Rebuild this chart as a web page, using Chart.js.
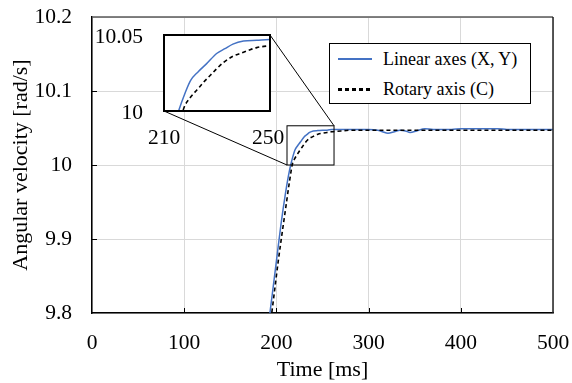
<!DOCTYPE html>
<html>
<head>
<meta charset="utf-8">
<script src="https://cdn.jsdelivr.net/npm/chart.js@4/dist/chart.umd.min.js"></script>
<style>
    html, body { margin: 0; padding: 0; background: #fff; }
    #wrap { position: relative; width: 572px; height: 383px; }
    #wrap canvas { position: absolute; left: 0; top: 0; }
    #legend {
        position: absolute; left: 329px; top: 43px; width: 200px; height: 59px;
        border: 1px solid #000; background: #fff;
        font: 18px 'Liberation Serif', 'Times New Roman', serif; color: #000;
    }
    #legend .row { position: absolute; left: 0; height: 22px; line-height: 22px; width: 100%; }
    #legend .swatch { position: absolute; left: 8px; top: 10px; width: 34px; }
    #legend .label { position: absolute; left: 53px; top: 0; white-space: nowrap; }
</style>
</head>
<body>
<div id="wrap">
    <canvas id="mainChart" width="572" height="383"></canvas>
    <canvas id="insetChart" width="572" height="383"></canvas>
    <div id="legend"></div>
</div>
<script>
// series names
var seriesNames = ['Linear axes (X, Y)', 'Rotary axis (C)'];

// Linear axes (X, Y) - time [ms] / angular velocity [rad/s]
var linearTime = [180, 185, 190, 195, 200, 205, 210, 213, 215.5, 218,
    220, 223, 226, 230, 233, 236, 240, 245, 250, 255,
    260, 270, 280, 290, 300, 310, 315, 321, 328, 334,
    340, 345, 352, 361, 370, 380, 390, 400, 410, 420,
    430, 440, 450, 460, 470, 480, 490, 500];
var linearVel = [9.66, 9.715, 9.77, 9.82, 9.87, 9.92, 9.963, 9.985, 10.000, 10.012,
    10.02, 10.026, 10.031, 10.038, 10.041, 10.044, 10.046, 10.0465, 10.047, 10.047,
    10.048, 10.048, 10.048, 10.048, 10.048, 10.047, 10.045, 10.043, 10.045, 10.047,
    10.046, 10.044, 10.046, 10.049, 10.048, 10.048, 10.048, 10.049, 10.049, 10.049,
    10.049, 10.049, 10.048, 10.048, 10.048, 10.048, 10.048, 10.048];

// Rotary axis (C)
var rotaryTime = [182, 187, 192, 197, 202, 207, 211, 214, 217.3, 220,
    222.5, 225, 227.5, 230, 232.5, 236, 239, 242, 245, 250,
    255, 260, 270, 280, 300, 320, 340, 360, 380, 400,
    420, 440, 460, 480, 500];
var rotaryVel = [9.66, 9.715, 9.77, 9.82, 9.87, 9.915, 9.95, 9.976, 10.001, 10.009,
    10.014, 10.019, 10.0235, 10.028, 10.032, 10.036, 10.038, 10.040, 10.0417, 10.043,
    10.044, 10.045, 10.046, 10.047, 10.047, 10.047, 10.047, 10.047, 10.047, 10.047,
    10.047, 10.047, 10.047, 10.047, 10.047];

// main axes
var xTicks = [0, 100, 200, 300, 400, 500];
var yTicks = [9.8, 9.9, 10, 10.1, 10.2];
var yTickLabels = ['9.8', '9.9', '10', '10.1', '10.2'];

// zoomed region marked on the main chart, and the inset's range
var zoomBoxX = [211.5, 262.5];
var zoomBoxY = [10, 10.053];
var insetXTicks = [210, 250];
var insetYTicks = [10, 10.05];
var insetYTickLabels = ['10', '10.05'];

var FONT = "'Liberation Serif', 'Times New Roman', serif";
var BLUE = '#4472C4';
var INSET = { left: 164, top: 35, right: 270, bottom: 111 };

Chart.defaults.font.family = FONT;
Chart.defaults.color = '#000';

function toPoints(xs, ys) {
    return xs.map(function(x, i) { return { x: x, y: ys[i] }; });
}

function makeDatasets() {
    return [{
        label: seriesNames[1],
        data: toPoints(rotaryTime, rotaryVel),
        borderColor: '#000',
        borderWidth: 1.6,
        borderDash: [4, 3],
        pointRadius: 0,
        cubicInterpolationMode: 'monotone'
    }, {
        label: seriesNames[0],
        data: toPoints(linearTime, linearVel),
        borderColor: BLUE,
        borderWidth: 1.5,
        pointRadius: 0,
        cubicInterpolationMode: 'monotone'
    }];
}

// frame, inward ticks, zoom box and connectors
var mainDecor = {
    id: 'mainDecor',
    afterDatasetsDraw: function(chart) {
        var ctx = chart.ctx, a = chart.chartArea;
        var xs = chart.scales.x, ys = chart.scales.y;
        ctx.save();
        ctx.strokeStyle = '#000';
        ctx.lineWidth = 1;
        ctx.beginPath();
        xTicks.slice(1, -1).forEach(function(v) {
            var px = Math.round(xs.getPixelForValue(v)) + 0.5;
            ctx.moveTo(px, a.bottom);
            ctx.lineTo(px, a.bottom - 5);
        });
        yTicks.slice(1, -1).forEach(function(v) {
            var py = Math.round(ys.getPixelForValue(v)) + 0.5;
            ctx.moveTo(a.left, py);
            ctx.lineTo(a.left + 5, py);
        });
        ctx.stroke();

        ctx.lineWidth = 1.5;
        ctx.strokeStyle = '#595959';
        ctx.beginPath();
        ctx.moveTo(a.left, a.top);
        ctx.lineTo(a.right, a.top);
        ctx.stroke();
        ctx.strokeStyle = '#222';
        ctx.beginPath();
        ctx.moveTo(a.right, a.top);
        ctx.lineTo(a.right, a.bottom);
        ctx.stroke();

        var x1 = xs.getPixelForValue(zoomBoxX[0]), x2 = xs.getPixelForValue(zoomBoxX[1]);
        var y1 = ys.getPixelForValue(zoomBoxY[0]), y2 = ys.getPixelForValue(zoomBoxY[1]);
        ctx.strokeStyle = '#000';
        ctx.lineWidth = 1;
        ctx.strokeRect(x1, y2, x2 - x1, y1 - y2);
        ctx.beginPath();
        ctx.moveTo(INSET.right, INSET.top);
        ctx.lineTo(x2, y2);
        ctx.moveTo(INSET.left, INSET.bottom);
        ctx.lineTo(x1, y1);
        ctx.stroke();
        ctx.restore();
    }
};

new Chart(document.getElementById('mainChart').getContext('2d'), {
    type: 'line',
    data: { datasets: makeDatasets() },
    options: {
        responsive: false,
        animation: false,
        devicePixelRatio: 1,
        layout: { padding: { top: 17, right: 19, left: 0, bottom: 0 } },
        plugins: { legend: { display: false }, tooltip: { enabled: false } },
        scales: {
            x: {
                type: 'linear',
                min: 0,
                max: 500,
                afterBuildTicks: function(s) { s.ticks = xTicks.map(function(v) { return { value: v }; }); },
                afterFit: function(s) { s.height = 70; s.paddingLeft = 0; s.paddingRight = 0; },
                ticks: { font: { size: 21.5 }, color: '#000', padding: 17, maxRotation: 0 },
                grid: { color: '#d9d9d9', drawTicks: false },
                border: { color: '#000', width: 1.5 },
                title: { display: true, text: 'Time [ms]', font: { size: 22 }, color: '#000', padding: { top: 0, bottom: 0 } }
            },
            y: {
                min: 9.8,
                max: 10.2,
                afterBuildTicks: function(s) { s.ticks = yTicks.map(function(v) { return { value: v }; }); },
                afterFit: function(s) { s.width = 92; s.paddingTop = 0; s.paddingBottom = 0; },
                ticks: {
                    font: { size: 21.5 }, color: '#000', padding: 20,
                    callback: function(v, i) { return yTickLabels[i]; }
                },
                grid: { color: '#d9d9d9', drawTicks: false },
                border: { color: '#000', width: 1.5 },
                title: { display: true, text: 'Angular velocity [rad/s]', font: { size: 22 }, color: '#000', padding: { top: 8, bottom: 0 } }
            }
        }
    },
    plugins: [mainDecor]
});

// inset: white plot area, frame and tick labels
var insetDecor = {
    id: 'insetDecor',
    beforeDatasetsDraw: function(chart) {
        var ctx = chart.ctx, a = chart.chartArea;
        ctx.save();
        ctx.fillStyle = '#fff';
        ctx.fillRect(a.left, a.top, a.right - a.left, a.bottom - a.top);
        ctx.restore();
    },
    afterDatasetsDraw: function(chart) {
        var ctx = chart.ctx, a = chart.chartArea;
        var xs = chart.scales.x, ys = chart.scales.y;
        ctx.save();
        ctx.strokeStyle = '#000';
        ctx.lineWidth = 2;
        ctx.strokeRect(a.left, a.top, a.right - a.left, a.bottom - a.top);
        ctx.fillStyle = '#000';
        ctx.font = '21.5px ' + FONT;
        ctx.textAlign = 'right';
        ctx.textBaseline = 'middle';
        insetYTicks.forEach(function(v, i) {
            ctx.fillText(insetYTickLabels[i], a.left - 21, ys.getPixelForValue(v) + 2);
        });
        ctx.textAlign = 'center';
        insetXTicks.forEach(function(v, i) {
            var px = xs.getPixelForValue(v);
            if (i === insetXTicks.length - 1) px -= 2;
            ctx.fillText(String(v), px, a.bottom + 27);
        });
        ctx.restore();
    }
};

new Chart(document.getElementById('insetChart').getContext('2d'), {
    type: 'line',
    data: { datasets: makeDatasets() },
    options: {
        responsive: false,
        animation: false,
        devicePixelRatio: 1,
        layout: { padding: { left: INSET.left, top: INSET.top, right: 572 - INSET.right, bottom: 383 - INSET.bottom } },
        plugins: { legend: { display: false }, tooltip: { enabled: false } },
        scales: {
            x: { type: 'linear', min: insetXTicks[0], max: insetXTicks[1], display: false },
            y: { min: insetYTicks[0], max: insetYTicks[1], display: false }
        }
    },
    plugins: [insetDecor]
});

// legend box
var legend = document.getElementById('legend');
[{ name: seriesNames[0], top: 4, bg: BLUE, h: 1.5 },
 { name: seriesNames[1], top: 34, bg: 'repeating-linear-gradient(to right, #000 0 4px, transparent 4px 7px)', h: 2.5 }
].forEach(function(item) {
    var row = document.createElement('div');
    row.className = 'row';
    row.style.top = item.top + 'px';
    var sw = document.createElement('span');
    sw.className = 'swatch';
    sw.style.height = item.h + 'px';
    sw.style.background = item.bg;
    var lb = document.createElement('span');
    lb.className = 'label';
    lb.textContent = item.name;
    row.appendChild(sw);
    row.appendChild(lb);
    legend.appendChild(row);
});
</script>
</body>
</html>
